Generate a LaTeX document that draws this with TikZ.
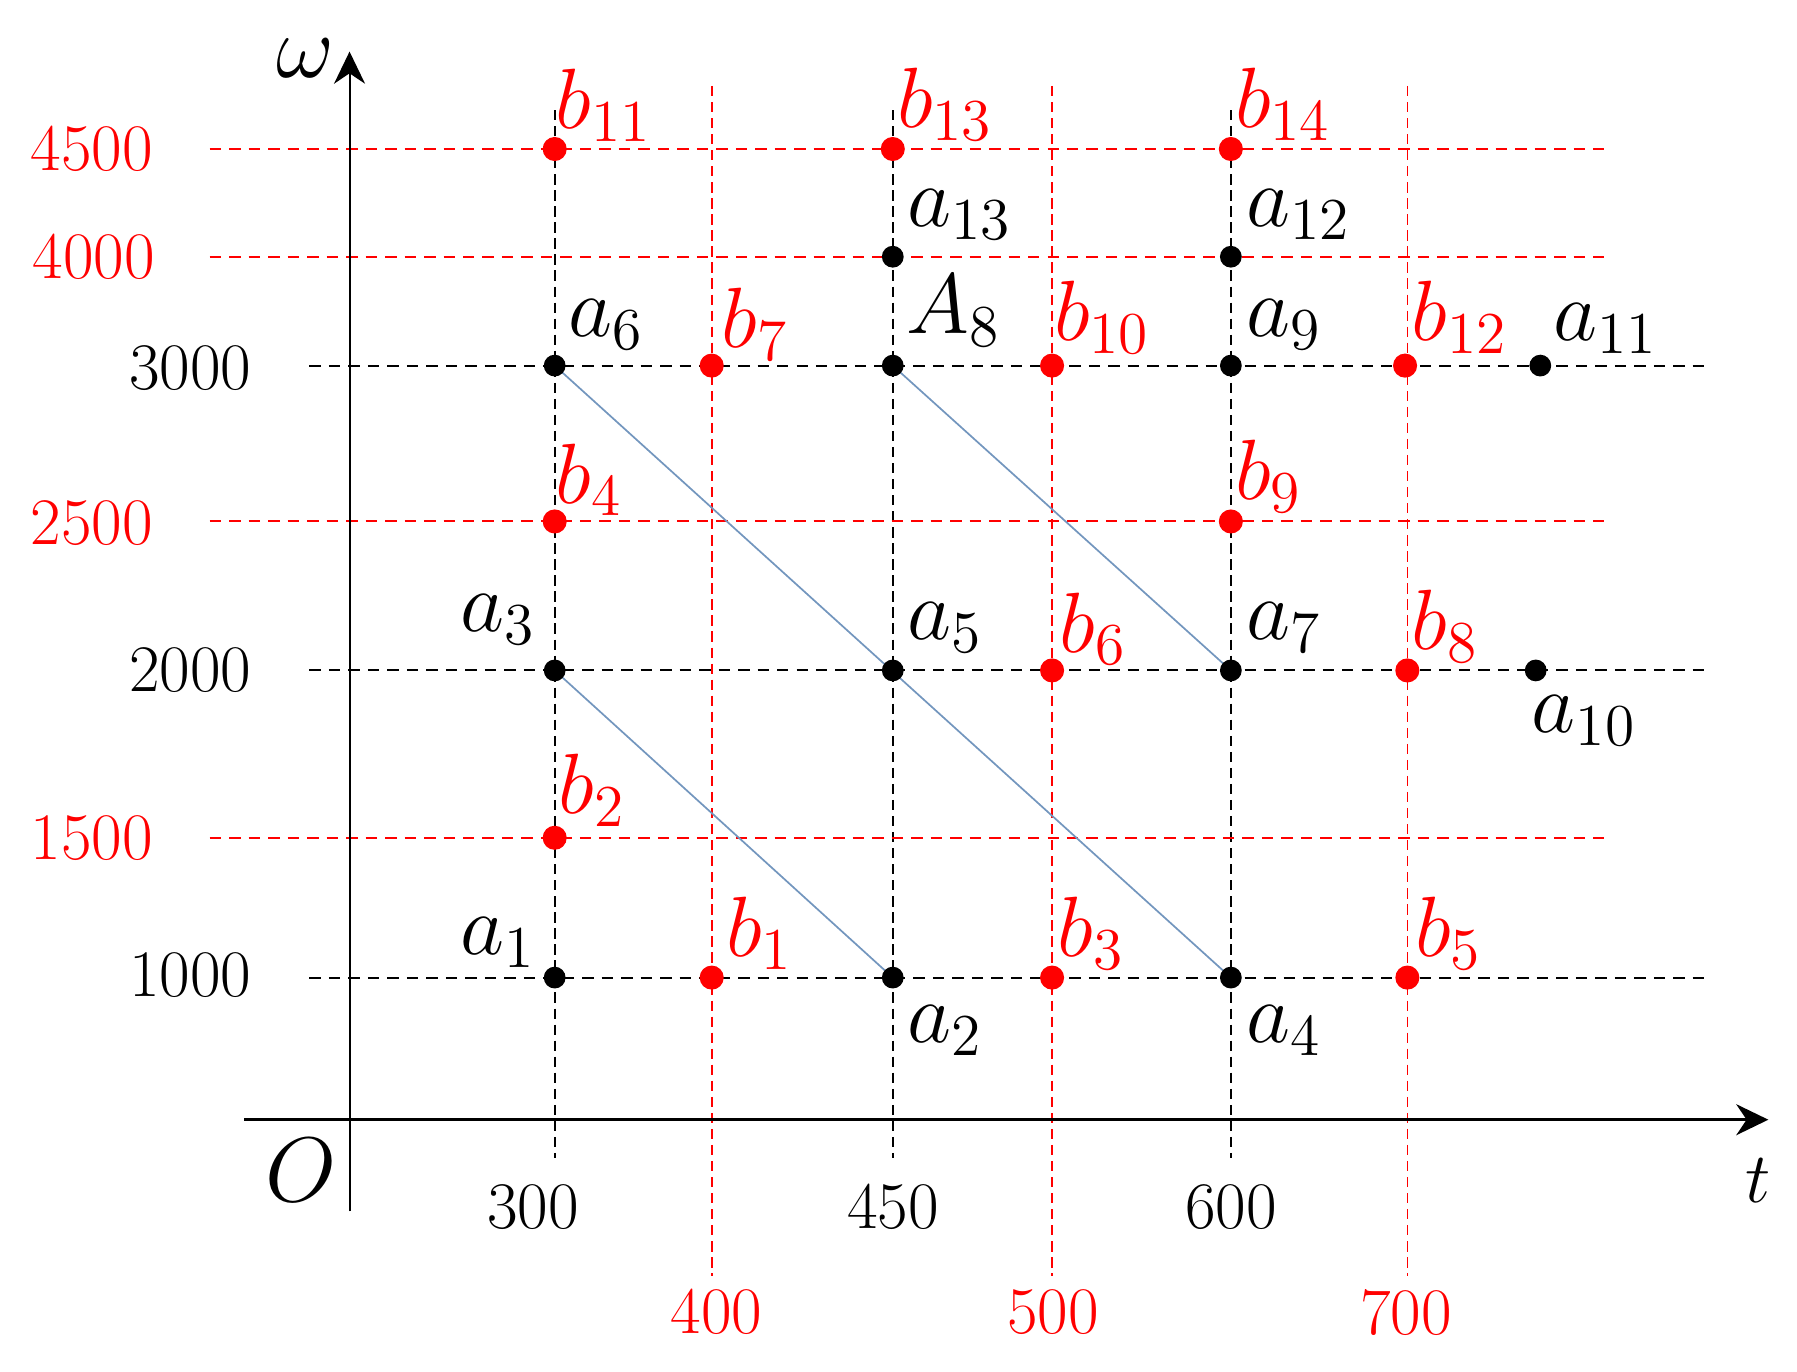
\documentclass[tikz,border=0pt]{standalone}
\usetikzlibrary{arrows.meta}
\definecolor{myred}{RGB}{255,0,0}
\definecolor{myblue}{RGB}{115,150,190}
\pgfdeclarelayer{gridlayer}
\pgfdeclarelayer{linklayer}
\pgfsetlayers{gridlayer,linklayer,main}
\tikzset{
  blackdot/.style={circle,fill=black,inner sep=0pt,minimum size=19pt},
  reddot/.style={circle,fill=myred,inner sep=0pt,minimum size=21pt},
  hgridblack/.style={draw=black,line width=1.8pt,dash pattern=on 10pt off 7pt},
  hgridred/.style={draw=myred,line width=1.8pt,dash pattern=on 10pt off 7pt},
  vgridblack/.style={draw=black,line width=1.6pt,dash pattern=on 9pt off 5pt},
  vgridred/.style={draw=myred,line width=1.4pt,dash pattern=on 9pt off 5pt},
  lab/.style={anchor=base west,inner sep=0pt,scale=3.6,font=\fontsize{20}{24}\selectfont},
  alab/.style={lab,text=black},
  blab/.style={lab,text=myred},
  num/.style={inner sep=0pt,font=\fontsize{58}{64}\selectfont},
  blacknum/.style={num,text=black},
  rednum/.style={num,text=myred},
  link/.style={draw=myblue,line width=1.5pt},
  axis/.style={draw=black,-{Stealth[length=28pt,width=27pt,inset=9pt]}},
  axlab/.style={inner sep=0pt,font=\fontsize{20}{24}\selectfont},
}
\begin{document}
\begin{tikzpicture}[x=1pt,y=-1pt]
\useasboundingbox (0,0) rectangle (1568,1197);

% grid
\begin{pgfonlayer}{gridlayer}
  \foreach \xx in {621,918,1228} \draw[vgridred] (\xx,75) -- (\xx,1113);
  \foreach \xx in {484,779,1074} \draw[vgridblack] (\xx,96) -- (\xx,1010);
  \foreach \yy in {130,224,455,731} \draw[hgridred] (183,\yy) -- (1401,\yy);
  \foreach \yy in {319,585,853} \draw[hgridblack] (270,\yy) -- (1487,\yy);
\end{pgfonlayer}

% axes
\coordinate (ybot) at (305,1057);
\coordinate (ytop) at (305,45);
\coordinate (xleft) at (213,977);
\coordinate (xright) at (1543,977);
\draw[axis,line width=1.8pt] (ybot) -- (ytop);
\draw[axis,line width=2.5pt] (xleft) -- (xright);
\node[axlab,scale=3.76] (omega) at (266,51) {$\omega$};
\node[axlab,scale=3.86] (origin) at (263,1021) {$O$};
\node[axlab,scale=3.0] (tlab) at (1534,1030) {$t$};

% tick labels
\node[rednum] (y4500) at (80,130) {4500};
\node[rednum] (y4000) at (82,224) {4000};
\node[blacknum] (y3000) at (166,321) {3000};
\node[rednum] (y2500) at (80,456) {2500};
\node[blacknum] (y2000) at (166,585) {2000};
\node[rednum] (y1500) at (80,731) {1500};
\node[blacknum] (y1000) at (166,851) {1000};
\node[blacknum] (x300) at (465,1053) {300};
\node[blacknum] (x450) at (779,1053) {450};
\node[blacknum] (x600) at (1074,1053) {600};
\node[rednum] (x400) at (625,1145) {400};
\node[rednum] (x500) at (919,1145) {500};
\node[rednum] (x700) at (1227,1145) {700};

% points
\node[blackdot] (a1) at (484,853) {};
\node[reddot] (b1) at (621,853) {};
\node[blackdot] (a2) at (779,853) {};
\node[reddot] (b3) at (918,853) {};
\node[blackdot] (a4) at (1074,853) {};
\node[reddot] (b5) at (1228,853) {};
\node[reddot] (b2) at (484,731) {};
\node[blackdot] (a3) at (484,585) {};
\node[blackdot] (a5) at (779,585) {};
\node[reddot] (b6) at (918,585) {};
\node[blackdot] (a7) at (1074,585) {};
\node[reddot] (b8) at (1228,585) {};
\node[blackdot] (a10) at (1340,585) {};
\node[reddot] (b4) at (484,455) {};
\node[reddot] (b9) at (1074,455) {};
\node[blackdot] (a6) at (484,319) {};
\node[reddot] (b7) at (621,319) {};
\node[blackdot] (A8) at (779,319) {};
\node[reddot] (b10) at (918,319) {};
\node[blackdot] (a9) at (1074,319) {};
\node[reddot] (b12) at (1226,319) {};
\node[blackdot] (a11) at (1344,319) {};
\node[blackdot] (a13) at (779,224) {};
\node[blackdot] (a12) at (1074,224) {};
\node[reddot] (b11) at (484,130) {};
\node[reddot] (b13) at (779,130) {};
\node[reddot] (b14) at (1074,130) {};

% links
\begin{pgfonlayer}{linklayer}
  \draw[link] (a6.center) -- (a4.center);
  \draw[link] (A8.center) -- (a7.center);
  \draw[link] (a3.center) -- (a2.center);
\end{pgfonlayer}

% labels
\node[alab,anchor=base east] (la1) at (468,833) {$a_{1}$};
\node[blab] (lb1) at (633,835) {$b_{1}$};
\node[alab] (la2) at (791,910) {$a_{2}$};
\node[blab] (lb3) at (922,835) {$b_{3}$};
\node[alab] (la4) at (1087,910) {$a_{4}$};
\node[blab] (lb5) at (1234,835) {$b_{5}$};
\node[blab] (lb2) at (487,710) {$b_{2}$};
\node[alab,anchor=base east] (la3) at (468,551) {$a_{3}$};
\node[alab] (la5) at (791,558) {$a_{5}$};
\node[blab] (lb6) at (924,569) {$b_{6}$};
\node[alab] (la7) at (1087,558) {$a_{7}$};
\node[blab] (lb8) at (1231,567) {$b_{8}$};
\node[alab] (la10) at (1336,639) {$a_{10}$};
\node[blab] (lb4) at (484,439) {$b_{4}$};
\node[blab] (lb9) at (1077,436) {$b_{9}$};
\node[alab] (la6) at (495,294) {$a_{6}$};
\node[blab] (lb7) at (629,303) {$b_{7}$};
\node[alab] (lA8) at (790,291) {$A_{8}$};
\node[blab] (lb10) at (919,297) {$b_{10}$};
\node[alab] (la9) at (1087,294) {$a_{9}$};
\node[blab] (lb12) at (1231,297) {$b_{12}$};
\node[alab] (la11) at (1355,297) {$a_{11}$};
\node[alab] (la13) at (791,198) {$a_{13}$};
\node[alab] (la12) at (1087,198) {$a_{12}$};
\node[blab] (lb11) at (484,112) {$b_{11}$};
\node[blab] (lb13) at (782,111) {$b_{13}$};
\node[blab] (lb14) at (1077,111) {$b_{14}$};
\end{tikzpicture}
\end{document}
